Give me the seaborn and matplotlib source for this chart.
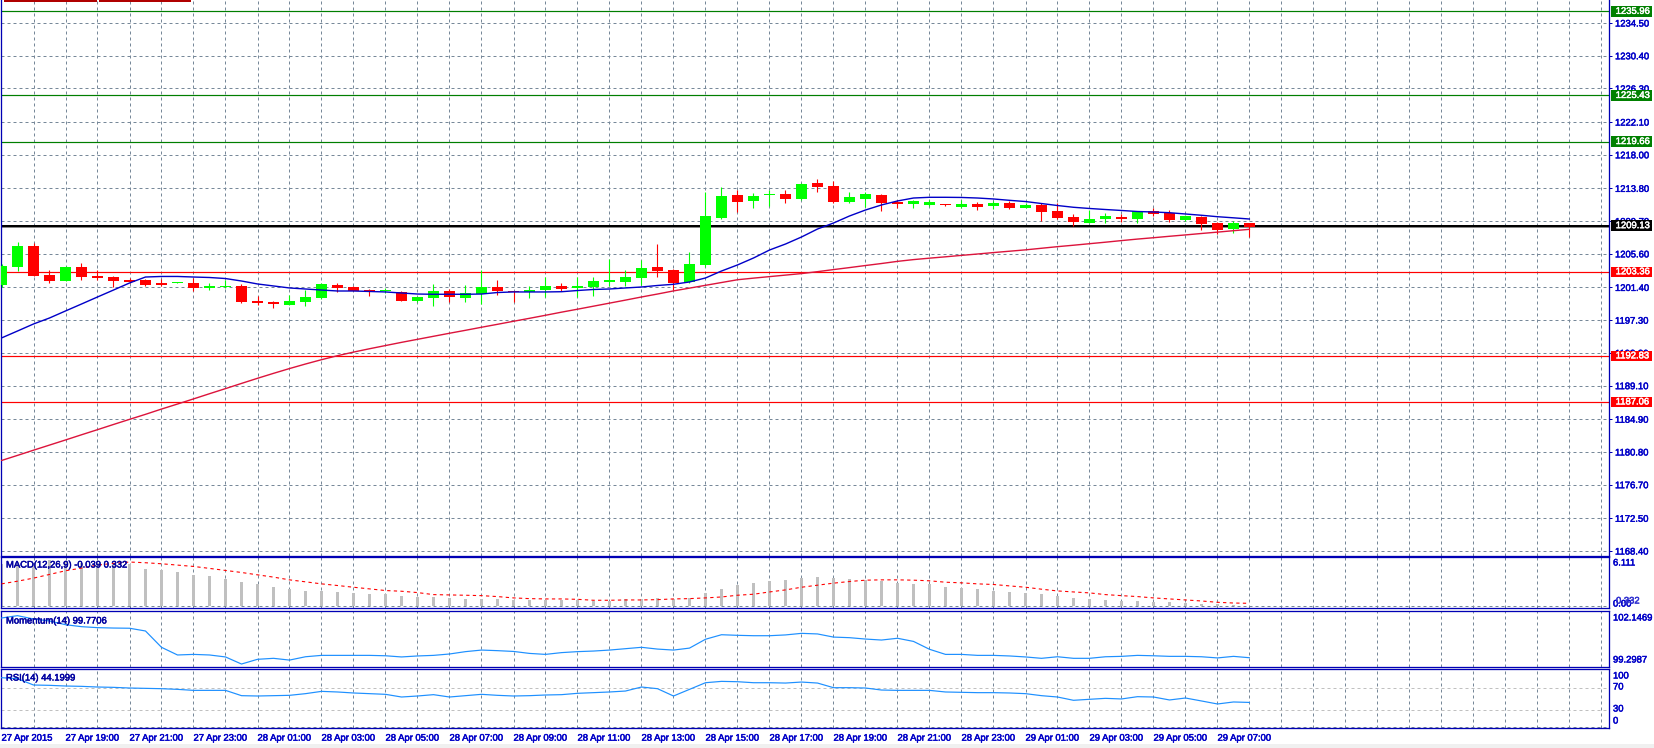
import numpy as np
import pandas as pd
import matplotlib
matplotlib.use("Agg")
import matplotlib.pyplot as plt
import matplotlib.transforms as mtrans
import matplotlib.patheffects as pe
from matplotlib.patches import Rectangle
import seaborn as sns

# ---------------- data ----------------
opens = [1201.7, 1203.9, 1206.6, 1203.0, 1202.2, 1204.0, 1202.8, 1202.7, 1202.3, 1202.3,
         1201.95, 1201.95, 1201.95, 1201.33, 1201.45, 1201.6, 1199.7, 1199.57, 1199.2, 1199.57,
         1200.07, 1201.7, 1201.45, 1201.08, 1200.95, 1200.83, 1199.7, 1200.07, 1200.95, 1200.07,
         1200.58, 1201.45, 1200.95, 1200.83, 1201.08, 1201.58, 1201.33, 1201.45, 1202.08, 1202.08,
         1202.58, 1203.95, 1203.58, 1202.08, 1204.2, 1210.1, 1212.97, 1212.26, 1212.93, 1213.09,
         1212.47, 1214.47, 1214.1, 1212.13, 1212.51, 1213.0, 1212.13, 1211.88, 1211.72, 1211.76,
         1211.47, 1211.84, 1211.63, 1211.97, 1211.38, 1211.72, 1210.96, 1210.21, 1209.5, 1209.96,
         1210.17, 1209.96, 1210.96, 1210.76, 1209.84, 1210.21, 1209.46, 1208.67, 1209.46]
highs = [1204.3, 1207.1, 1206.9, 1203.6, 1204.1, 1204.5, 1203.6, 1202.8, 1202.6, 1202.4,
         1202.45, 1202.1, 1202.6, 1201.95, 1202.3, 1201.8, 1200.3, 1199.7, 1200.45, 1201.1,
         1201.9, 1201.95, 1201.6, 1201.2, 1201.3, 1200.95, 1200.2, 1201.83, 1201.2, 1201.7,
         1203.58, 1202.33, 1201.0, 1201.58, 1202.7, 1201.95, 1202.7, 1202.7, 1204.95, 1203.58,
         1204.83, 1206.83, 1203.7, 1205.83, 1213.3, 1214.0, 1213.6, 1213.26, 1213.6, 1213.6,
         1214.5, 1214.93, 1214.76, 1213.3, 1213.3, 1213.1, 1212.34, 1212.4, 1212.34, 1211.8,
         1212.4, 1212.13, 1212.17, 1212.26, 1211.92, 1212.0, 1211.92, 1210.59, 1211.09, 1210.67,
         1210.59, 1211.0, 1211.3, 1211.09, 1210.5, 1210.4, 1209.6, 1209.7, 1209.5]
lows = [1201.5, 1203.4, 1202.8, 1202.0, 1202.2, 1202.3, 1202.3, 1201.4, 1201.9, 1201.6,
        1201.6, 1201.9, 1200.95, 1201.1, 1201.3, 1199.45, 1199.2, 1198.8, 1199.2, 1199.07,
        1200.0, 1200.85, 1200.9, 1200.3, 1200.7, 1199.7, 1199.6, 1199.07, 1199.6, 1199.6,
        1199.32, 1200.45, 1199.57, 1200.07, 1200.2, 1200.95, 1200.2, 1200.32, 1201.58, 1201.58,
        1201.7, 1202.7, 1201.08, 1202.0, 1204.0, 1209.96, 1210.8, 1211.38, 1211.63, 1211.92,
        1212.3, 1213.38, 1212.0, 1212.0, 1211.5, 1211.0, 1211.38, 1211.38, 1211.6, 1211.6,
        1211.4, 1211.09, 1211.2, 1211.2, 1211.3, 1209.71, 1209.92, 1209.13, 1209.42, 1209.5,
        1209.59, 1209.5, 1210.4, 1209.63, 1209.7, 1208.58, 1208.08, 1208.25, 1207.75]
closes = [1204.1, 1206.6, 1202.8, 1202.2, 1204.0, 1202.7, 1202.6, 1202.2, 1202.1, 1201.7,
          1201.7, 1202.05, 1201.3, 1201.58, 1201.6, 1199.6, 1199.45, 1199.32, 1199.7, 1200.2,
          1201.83, 1201.33, 1200.95, 1200.83, 1201.0, 1199.7, 1200.2, 1200.95, 1200.2, 1200.7,
          1201.45, 1200.95, 1200.83, 1201.08, 1201.58, 1201.2, 1201.58, 1202.2, 1202.33, 1202.7,
          1203.83, 1203.45, 1201.95, 1204.33, 1210.34, 1212.84, 1212.13, 1212.84, 1213.13, 1212.51,
          1214.35, 1214.0, 1212.13, 1212.72, 1213.09, 1212.0, 1211.84, 1212.26, 1212.09, 1211.67,
          1211.84, 1211.51, 1211.97, 1211.38, 1211.67, 1210.88, 1210.13, 1209.63, 1209.96, 1210.38,
          1209.96, 1210.96, 1210.59, 1209.84, 1210.38, 1209.38, 1208.63, 1209.46, 1208.96]

ma_fast = [1195.07, 1195.94, 1196.82, 1197.57, 1198.45, 1199.32, 1200.20, 1201.07, 1201.95, 1202.70,
           1202.77, 1202.77, 1202.70, 1202.64, 1202.51, 1202.20, 1201.83, 1201.58, 1201.33, 1201.20,
           1201.07, 1200.95, 1200.95, 1200.89, 1200.83, 1200.70, 1200.57, 1200.54, 1200.54, 1200.54,
           1200.57, 1200.76, 1200.83, 1200.83, 1200.83, 1200.86, 1201.01, 1201.14, 1201.20, 1201.33,
           1201.45, 1201.64, 1201.79, 1202.08, 1202.58, 1203.45, 1204.21, 1205.08, 1206.08, 1206.83,
           1207.71, 1208.71, 1209.46, 1210.34, 1211.09, 1211.72, 1212.22, 1212.59, 1212.68, 1212.68,
           1212.66, 1212.59, 1212.47, 1212.30, 1212.15, 1211.90, 1211.65, 1211.43, 1211.28, 1211.15,
           1211.03, 1210.90, 1210.84, 1210.75, 1210.59, 1210.43, 1210.25, 1210.11, 1209.96]
ma_slow = [1179.73, 1180.37, 1181.02, 1181.66, 1182.30, 1182.95, 1183.59, 1184.24, 1184.88, 1185.51,
           1186.17, 1186.80, 1187.44, 1188.09, 1188.73, 1189.38, 1190.02, 1190.64, 1191.24, 1191.81,
           1192.35, 1192.85, 1193.30, 1193.72, 1194.12, 1194.52, 1194.90, 1195.28, 1195.66, 1196.03,
           1196.41, 1196.78, 1197.16, 1197.53, 1197.91, 1198.30, 1198.67, 1199.05, 1199.43, 1199.81,
           1200.20, 1200.57, 1200.96, 1201.31, 1201.66, 1202.01, 1202.36, 1202.56, 1202.75, 1202.94,
           1203.13, 1203.37, 1203.63, 1203.88, 1204.14, 1204.39, 1204.66, 1204.88, 1205.06, 1205.23,
           1205.41, 1205.58, 1205.76, 1205.93, 1206.10, 1206.30, 1206.50, 1206.68, 1206.87, 1207.06,
           1207.26, 1207.45, 1207.62, 1207.80, 1207.97, 1208.15, 1208.32, 1208.50, 1208.67]

macd_main = [5.3, 5.4, 5.5, 5.8, 5.6, 5.5, 5.5, 5.4, 5.38, 4.74,
             4.53, 4.27, 3.97, 3.76, 3.46, 3.08, 2.78, 2.48, 2.22, 1.97,
             1.97, 1.79, 1.71, 1.58, 1.54, 1.28, 1.15, 1.15, 1.03, 0.90,
             0.90, 0.94, 0.81, 0.77, 0.77, 0.77, 0.77, 0.68, 0.68, 0.85,
             0.94, 1.03, 0.94, 1.03, 1.67, 2.18, 2.69, 2.95, 3.21, 3.33,
             3.59, 3.72, 3.59, 3.46, 3.33, 3.21, 2.99, 2.82, 2.74, 2.44,
             2.31, 2.18, 1.97, 1.79, 1.67, 1.54, 1.32, 1.03, 0.90, 0.77,
             0.68, 0.64, 0.56, 0.51, 0.43, 0.26, 0.21, 0.13, -0.04]
macd_signal = [2.82, 3.16, 3.55, 4.02, 4.49, 4.83, 5.21, 5.43, 5.60, 5.51,
               5.38, 5.21, 5.04, 4.79, 4.53, 4.27, 3.97, 3.68, 3.33, 3.08,
               2.82, 2.61, 2.39, 2.18, 1.97, 1.88, 1.71, 1.45, 1.41, 1.37,
               1.32, 1.20, 1.03, 0.94, 0.90, 0.90, 0.85, 0.73, 0.73, 0.77,
               0.77, 0.81, 0.90, 0.94, 1.03, 1.15, 1.37, 1.50, 1.79, 2.05,
               2.39, 2.65, 2.91, 3.12, 3.29, 3.33, 3.33, 3.29, 3.21, 3.03,
               2.95, 2.82, 2.74, 2.56, 2.39, 2.14, 1.92, 1.79, 1.67, 1.45,
               1.32, 1.20, 1.03, 0.90, 0.77, 0.64, 0.47, 0.38, 0.34]
momentum = [101.79, 101.91, 101.74, 101.64, 101.45, 101.35, 101.30, 101.28, 101.27, 101.13,
            100.30, 99.91, 99.94, 99.91, 99.81, 99.45, 99.69, 99.74, 99.65, 99.82,
            99.89, 99.89, 99.89, 99.89, 99.87, 99.81, 99.86, 99.89, 99.96, 100.08,
            100.16, 100.13, 100.09, 99.99, 99.94, 100.03, 100.08, 100.11, 100.16, 100.23,
            100.30, 100.21, 100.16, 100.26, 100.71, 100.94, 100.91, 100.89, 100.89, 100.93,
            101.01, 100.98, 100.82, 100.79, 100.72, 100.67, 100.76, 100.60, 100.20, 99.94,
            99.94, 99.89, 99.89, 99.86, 99.81, 99.74, 99.82, 99.74, 99.74, 99.82,
            99.84, 99.89, 99.87, 99.84, 99.84, 99.82, 99.76, 99.84, 99.77]
rsi = [88.5, 86.7, 75.4, 74.8, 73.6, 73.0, 71.8, 71.2, 70.0, 69.4,
       68.8, 67.6, 65.8, 65.8, 65.8, 56.3, 55.7, 56.3, 56.9, 59.9,
       64.0, 62.9, 61.1, 59.9, 58.7, 53.9, 55.7, 58.1, 53.9, 56.3,
       58.7, 56.9, 55.7, 56.3, 57.5, 58.1, 60.5, 61.7, 62.9, 64.6,
       71.8, 68.8, 55.7, 67.6, 79.5, 81.9, 81.3, 79.5, 79.5, 78.9,
       80.7, 78.9, 70.6, 70.6, 70.0, 66.4, 65.8, 65.8, 65.8, 62.9,
       62.3, 61.7, 61.7, 61.1, 59.9, 56.3, 53.9, 48.0, 49.8, 51.5,
       50.4, 54.5, 53.9, 48.6, 52.1, 46.8, 41.4, 45.0, 44.2]

price_ticks = [1168.40, 1172.50, 1176.70, 1180.80, 1184.90, 1189.10, 1193.20, 1197.30, 1201.40,
               1205.60, 1209.70, 1213.80, 1218.00, 1222.10, 1226.30, 1230.40, 1234.50]
levels_green = [1235.96, 1225.43, 1219.66]
levels_black = [1209.13]
levels_red = [1203.36, 1192.83, 1187.06]
time_tick_pos = [0, 4, 8, 12, 16, 20, 24, 28, 32, 36, 40, 44, 48, 52, 56, 60, 64, 68, 72, 76]
time_labels = ["27 Apr 2015", "27 Apr 19:00", "27 Apr 21:00", "27 Apr 23:00", "28 Apr 01:00",
               "28 Apr 03:00", "28 Apr 05:00", "28 Apr 07:00", "28 Apr 09:00", "28 Apr 11:00",
               "28 Apr 13:00", "28 Apr 15:00", "28 Apr 17:00", "28 Apr 19:00", "28 Apr 21:00",
               "28 Apr 23:00", "29 Apr 01:00", "29 Apr 03:00", "29 Apr 05:00", "29 Apr 07:00"]
macd_title = "MACD(12,26,9) -0.039 0.332"
mom_title = "Momentum(14) 99.7706"
rsi_title = "RSI(14) 44.1999"

# ---------------- style ----------------
W, H, DPI = 1654, 748, 100
PX = 72.0 / DPI
sns.set_theme(style="white")
plt.rcParams['font.family'] = ['Liberation Sans', 'DejaVu Sans']

BORDER = '#0000B4'
LABEL = '#0000C8'
GRID = '#778899'
FS = 6.8
DASH = (0, (3, 3))


def heavy(color):
    return [pe.withStroke(linewidth=0.35, foreground=color)]


fig = plt.figure(figsize=(W / DPI, H / DPI), dpi=DPI, facecolor='white')


def frect(x0, y0, x1, y1):
    return [x0 / W, 1 - y1 / H, (x1 - x0) / W, (y1 - y0) / H]


idx = np.arange(len(opens))
XL = (-0.5 / 16, (1609 - 1.5) / 16)


def style_panel(ax, top=True):
    ax.set_facecolor('white')
    ax.set_xlim(*XL)
    for s in ['left', 'right', 'bottom', 'top']:
        ax.spines[s].set_color(BORDER)
        ax.spines[s].set_linewidth(1.3 * PX)
    ax.spines['top'].set_visible(top)
    for k in range(2, 101, 2):
        ax.axvline(k, color=GRID, lw=PX, ls=DASH, zorder=0.5)
    ax.set_xlabel('')
    ax.set_ylabel('')


# ---------------- main price panel ----------------
ax = fig.add_axes(frect(1, 0, 1609, 556))
ax.set_ylim(1237.379 - 556 / 7.988, 1237.379)
for v in price_ticks:
    ax.axhline(v, color=GRID, lw=PX, ls=DASH, zorder=0.5)

for v in levels_green:
    ax.axhline(v, color='#007F00', lw=1.2 * PX, zorder=1)
for v in levels_red:
    ax.axhline(v, color='#FF0000', lw=1.2 * PX, zorder=1)
for v in levels_black:
    ax.axhline(v, color='#888888', lw=3 * PX, zorder=1)
    ax.axhline(v, color='#000000', lw=2.0 * PX, zorder=1.1)

o = np.array(opens); c = np.array(closes)
cols = np.where(c >= o, '#00FF00', '#FF0000')
ax.vlines(idx, lows, highs, colors=cols, lw=1.1 * PX, zorder=3)
body_h = np.maximum(np.abs(c - o), 0.14)
ax.bar(idx, body_h, bottom=np.minimum(o, c), width=10.5 / 16, color=cols, linewidth=0, zorder=3.1)

df = pd.DataFrame({'i': idx, 'fast': ma_fast, 'slow': ma_slow, 'macd': macd_main,
                   'sig': macd_signal, 'mom': momentum, 'rsi': rsi})
sns.lineplot(data=df, x='i', y='slow', ax=ax, color='#DC143C', lw=1.4 * PX, zorder=4)
sns.lineplot(data=df, x='i', y='fast', ax=ax, color='#0000C8', lw=1.4 * PX, zorder=4)
style_panel(ax, top=False)

ax.yaxis.tick_right()
ax.set_yticks(price_ticks)
ax.set_yticklabels([f"{v:.2f}" for v in price_ticks])
ax.tick_params(axis='y', which='both', direction='out', length=3 * PX, width=PX,
               color=BORDER, pad=3 * PX, labelsize=FS, labelcolor=LABEL)
for lab in ax.get_yticklabels():
    lab.set_path_effects(heavy(LABEL))
ax.set_xticks([])

blend = mtrans.blended_transform_factory(ax.transAxes, ax.transData)
bx0 = (1610.7 - 1) / 1608
bw = 41 / 1608
tx = (1615.7 - 1) / 1608
for vals, col in [(levels_green, '#008000'), (levels_black, '#000000'), (levels_red, '#FF0000')]:
    for v in vals:
        ax.add_patch(Rectangle((bx0, v - 5.2 / 7.988), bw, 10.4 / 7.988, transform=blend,
                               facecolor=col, edgecolor='none', clip_on=False, zorder=10))
        ax.text(tx, v, f"{v:.2f}", transform=blend, color='white', fontsize=FS,
                va='center', ha='left', clip_on=False, zorder=11,
                path_effects=heavy('white'))

# ---------------- MACD panel ----------------
ax2 = fig.add_axes(frect(1, 557, 1609, 608))
ax2.set_ylim((606 - 608) / 7.85, (606 - 557) / 7.85)
ax2.axhline(0, color=GRID, lw=PX, ls=DASH, zorder=0.5)
ax2.bar(idx, macd_main, width=3 / 16, color='#C0C0C0', linewidth=0, zorder=2)
sns.lineplot(data=df, x='i', y='sig', ax=ax2, color='#FF0000', lw=1.1 * PX, zorder=3,
             linestyle=(0, (3, 3)))
style_panel(ax2)
ax2.set_xticks([]); ax2.set_yticks([])

# ---------------- Momentum panel ----------------
ax3 = fig.add_axes(frect(1, 611, 1609, 667))
ax3.set_ylim(99.2987, 102.1469)
sns.lineplot(data=df, x='i', y='mom', ax=ax3, color='#1E90FF', lw=1.2 * PX, zorder=3)
style_panel(ax3)
ax3.set_xticks([]); ax3.set_yticks([])

# ---------------- RSI panel ----------------
ax4 = fig.add_axes(frect(1, 669, 1609, 728))
ax4.set_ylim((727.1 - 728) / 0.5583, (727.1 - 669) / 0.5583)
for lv in [70, 30]:
    ax4.axhline(lv, color='#C0C0C0', lw=PX, ls=DASH, zorder=0.6)
ax4.axhline(0, color=GRID, lw=PX, ls=DASH, zorder=0.6)
sns.lineplot(data=df, x='i', y='rsi', ax=ax4, color='#1E90FF', lw=1.2 * PX, zorder=3)
style_panel(ax4)
ax4.set_yticks([])
ax4.set_xticks(time_tick_pos)
ax4.set_xticklabels(time_labels)
for lab in ax4.get_xticklabels():
    lab.set_horizontalalignment('left')
    lab.set_path_effects(heavy(LABEL))
ax4.tick_params(axis='x', direction='out', length=4 * PX, width=PX, color=BORDER,
                pad=1.2, labelsize=FS, labelcolor=LABEL)
ax4.set_xlabel('')

# ---------------- texts ----------------
def ftext(xp, yp, s, color, **kw):
    fig.text(xp / W, 1 - yp / H, s, va='center', ha='left', fontsize=FS, color=color,
             path_effects=heavy(color), **kw)

ftext(6, 565, macd_title, '#0000A0')
ftext(6, 621, mom_title, '#0000A0')
ftext(6, 678, rsi_title, '#0000A0')

ftext(1613, 563, "6.111", LABEL)
ftext(1613, 604, "0.00", LABEL)
ftext(1616, 601, "0.332", '#3030D0')
ftext(1613, 618, "102.1469", LABEL)
ftext(1613, 660, "99.2987", LABEL)
ftext(1613, 676, "100", LABEL)
ftext(1613, 687, "70", LABEL)
ftext(1613, 709, "30", LABEL)
ftext(1613, 721, "0", LABEL)

# window decorations
fig.patches.append(Rectangle((0, 0), 1, 4 / H, transform=fig.transFigure,
                             facecolor='#F0F0F0', edgecolor='none', zorder=0))
for x0, x1 in [(4, 97), (99, 191)]:
    fig.patches.append(Rectangle((x0 / W, 1 - 2 / H), (x1 - x0) / W, 2 / H,
                                 transform=fig.transFigure, facecolor='#B00000',
                                 edgecolor='none', zorder=5))

fig.savefig('out.png', dpi=DPI, facecolor='white')
